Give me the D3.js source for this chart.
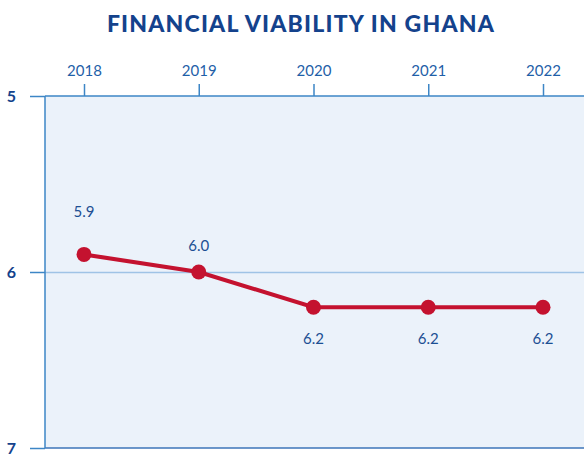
<!DOCTYPE html>
<html>
<head>
<meta charset="utf-8">
<script src="https://d3js.org/d3.v7.min.js"></script>
<style>
body { margin: 0; background: #fff; }
svg { display: block; }
.title { font-family: Lato, sans-serif; font-weight: 900; font-size: 23px; letter-spacing: 1.2px; fill: #14428c; }
.xaxis text { font-family: Lato, sans-serif; font-size: 15px; fill: #1f5fa8; }
.yaxis text { font-family: Lato, sans-serif; font-weight: 700; font-size: 16px; fill: #14428c; }
.xaxis line, .xaxis path, .yaxis line, .yaxis path { stroke: #3d86c6; stroke-width: 1.5px; }
.grid line { stroke: #9fc3e6; stroke-width: 1.5px; }
.grid path { stroke-width: 0; }
.label { font-family: Lato, sans-serif; font-size: 15px; fill: #1c4f93; text-anchor: middle; }
.line { fill: none; stroke: #c4122f; stroke-width: 4px; }
</style>
</head>
<body>
<svg></svg>
<script>
// chart data
var years = ["2018", "2019", "2020", "2021", "2022"];
var scores = [5.9, 6.0, 6.2, 6.2, 6.2];
var scoreLabels = ["5.9", "6.0", "6.2", "6.2", "6.2"];
var yTicks = [5, 6, 7];

var width = 584, height = 458;
var plotLeft = 45, plotTop = 96, plotBottom = 448, plotRight = 584;

var svg = d3.select("svg").attr("width", width).attr("height", height);

var x = d3.scalePoint().domain(years).range([84, 543]);
var y = d3.scaleLinear().domain([5, 7]).range([plotTop, plotBottom]);

// plot background
svg.append("rect")
    .attr("x", plotLeft).attr("y", plotTop)
    .attr("width", plotRight - plotLeft).attr("height", plotBottom - plotTop)
    .attr("fill", "#ebf2fa");

// gridline at 6
svg.append("g")
    .attr("class", "grid")
    .attr("transform", "translate(" + plotLeft + ",0)")
    .call(d3.axisRight(y).tickValues([6]).tickSize(plotRight - plotLeft).tickFormat(""));

// title
svg.append("text")
    .attr("class", "title")
    .attr("x", 301).attr("y", 32)
    .attr("text-anchor", "middle")
    .text("FINANCIAL VIABILITY IN GHANA");

// top axis
svg.append("g")
    .attr("class", "xaxis")
    .attr("transform", "translate(0," + plotTop + ")")
    .call(d3.axisTop(x).tickSize(12).tickSizeOuter(0).tickPadding(8))
    .select(".domain").attr("d", "M" + plotLeft + ",0H" + plotRight);

// bottom line
svg.append("line")
    .attr("x1", plotLeft).attr("x2", plotRight)
    .attr("y1", plotBottom).attr("y2", plotBottom)
    .style("stroke", "#3d74b8").style("stroke-width", "1.5px");

// left axis
svg.append("g")
    .attr("class", "yaxis")
    .attr("transform", "translate(" + plotLeft + ",0)")
    .call(d3.axisLeft(y).tickValues(yTicks).tickSize(15).tickPadding(14).tickFormat(d3.format("d")))
    .select(".domain").attr("d", "M0," + plotTop + "V" + plotBottom);

var pts = years.map(function(d, i) { return {year: d, v: scores[i], label: scoreLabels[i], i: i}; });

// line
svg.append("path")
    .datum(pts)
    .attr("class", "line")
    .attr("d", d3.line().x(function(d) { return x(d.year); }).y(function(d) { return y(d.v); }));

// dots
svg.selectAll("circle.dot")
    .data(pts)
    .enter().append("circle")
    .attr("class", "dot")
    .attr("cx", function(d) { return x(d.year); })
    .attr("cy", function(d) { return y(d.v); })
    .attr("r", 7.5)
    .attr("fill", "#c4122f");

// value labels
svg.selectAll("text.label")
    .data(pts)
    .enter().append("text")
    .attr("class", "label")
    .attr("x", function(d) { return x(d.year); })
    .attr("y", function(d) {
        if (d.i == 0) return y(d.v) - 37;
        if (d.i == 1) return y(d.v) - 21;
        return y(d.v) + 37;
    })
    .text(function(d) { return d.label; });
</script>
</body>
</html>
